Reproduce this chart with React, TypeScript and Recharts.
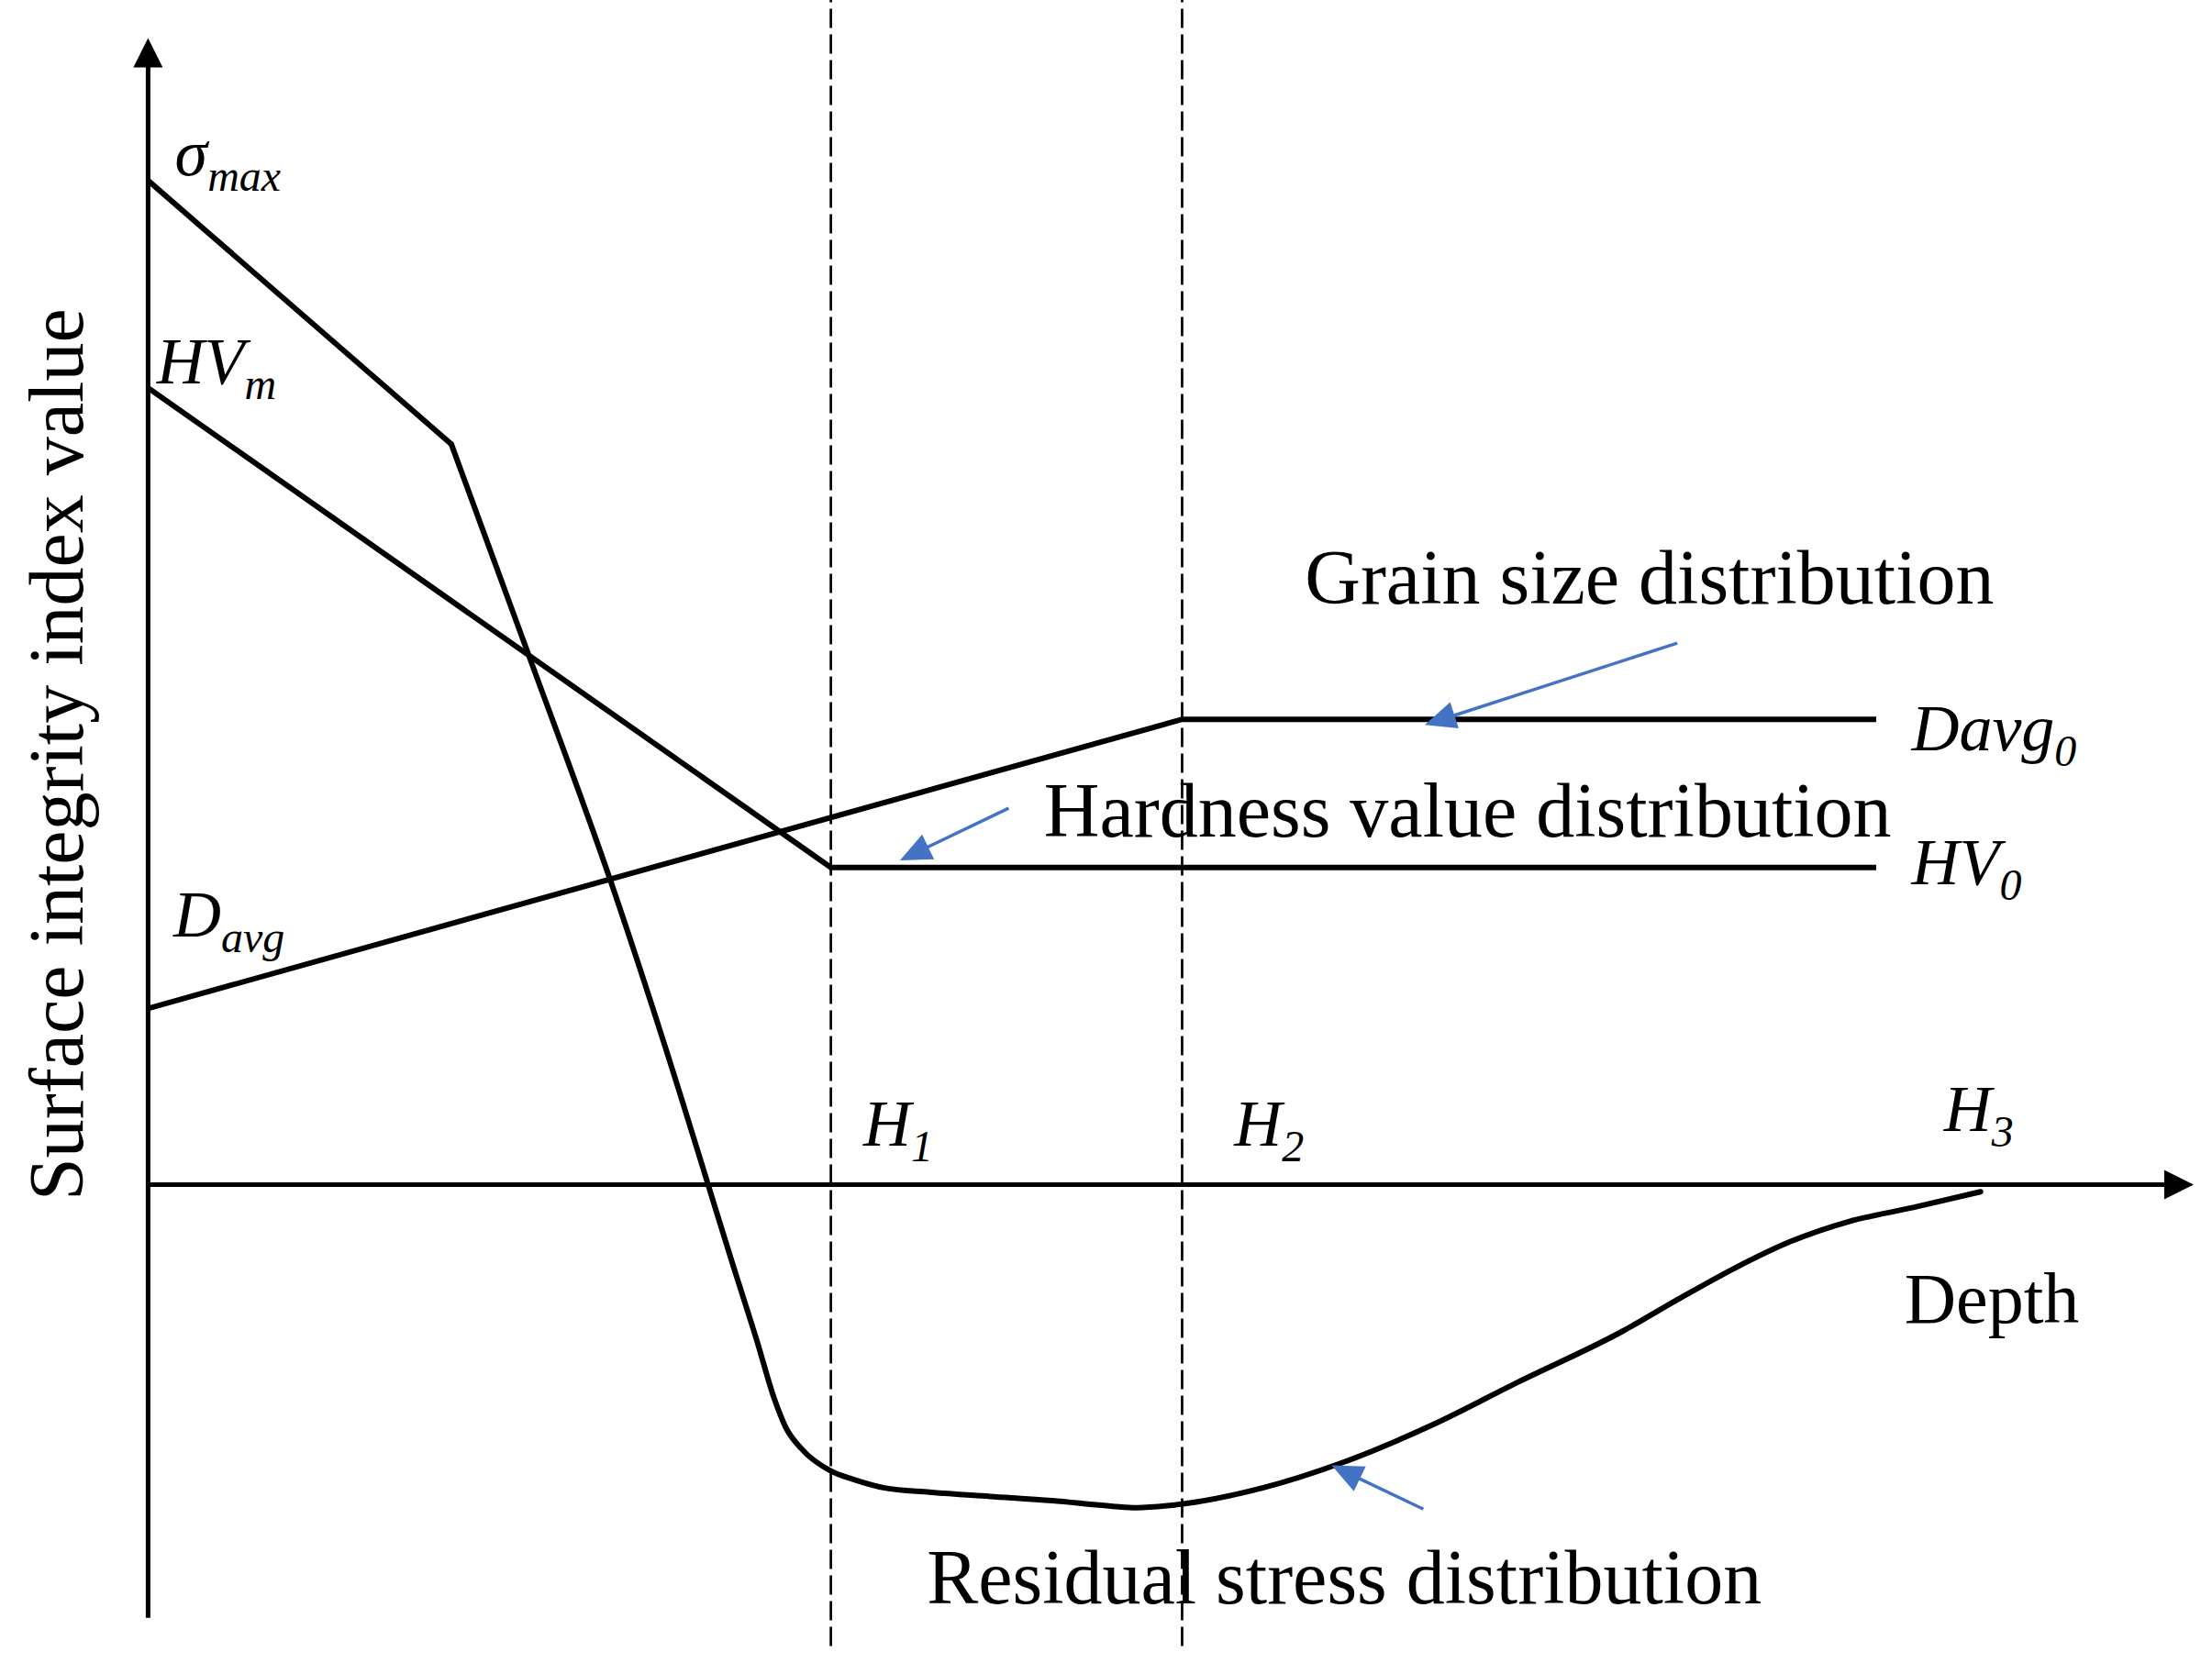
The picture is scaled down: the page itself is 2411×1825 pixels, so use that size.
import { ComposedChart, Line, XAxis, YAxis, ReferenceLine, ReferenceDot } from 'recharts'

// schematic units: d = depth, v = surface integrity index value
const stressHeadDepth = [0, 215]
const stressHeadValue = [712, 525]
const stressDepth = [215, 270, 328, 376, 397, 414, 432, 444, 452, 463, 484, 500, 522, 554, 597, 641, 684, 701, 728, 790, 844, 911, 971, 1045, 1085, 1125, 1165, 1206, 1252, 1299]
const stressValue = [525, 375, 215, 68, 0, -55, -112, -152, -172, -187, -203, -209, -215, -218, -221, -224, -228, -229, -227, -215, -198, -170, -140, -104, -81, -59, -40, -26, -16, -5]
const hardDepth = [0, 484, 1225]
const hardValue = [565, 225, 225]
const grainDepth = [0, 733, 1225]
const grainValue = [125, 330, 330]

const depthH = [484, 733] // H1, H2 dashed guides
const axisTop = 813
const axisBottom = -307
const axisEnd = 1450

// symbol labels: main text, subscript, anchor (depth, value)
const symbols = [
  { main: 'σ', sub: 'max', d: 19, v: 716 },
  { main: 'HV', sub: 'm', d: 6, v: 568 },
  { main: 'D', sub: 'avg', d: 18, v: 176 },
  { main: 'Davg', sub: '0', d: 1250, v: 308 },
  { main: 'HV', sub: '0', d: 1250, v: 213 },
  { main: 'H', sub: '1', d: 507, v: 28 },
  { main: 'H', sub: '2', d: 770, v: 28 },
  { main: 'H', sub: '3', d: 1273, v: 38 },
]

const captions = [
  { text: 'Grain size distribution', d: 820, v: 412, size: 84 },
  { text: 'Hardness value distribution', d: 635, v: 247, size: 84 },
  { text: 'Residual stress distribution', d: 552, v: -297, size: 84 },
  { text: 'Depth', d: 1245, v: -98, size: 78 },
]

// blue pointer arrows: from -> to
const pointers = [
  { d1: 1084, v1: 384, d2: 905, v2: 326 },
  { d1: 610, v1: 267, d2: 533, v2: 230 },
  { d1: 904, v1: -230, d2: 839, v2: -199 },
]

const zip = (d: number[], v: number[]) => d.map((x, i) => ({ d: x, v: v[i] }))

const FONT = '"Liberation Serif", "Times New Roman", serif'
const BLUE = '#4472C4'

const arrowShape = (color: string, width: number, head: number, headW: number) => (p: any) => {
  const { x1, y1, x2, y2 } = p
  const dx = x2 - x1
  const dy = y2 - y1
  const len = Math.hypot(dx, dy)
  const ux = dx / len
  const uy = dy / len
  const bx = x2 - ux * head
  const by = y2 - uy * head
  const px = (-uy * headW) / 2
  const py = (ux * headW) / 2
  return (
    <g>
      <line x1={x1} y1={y1} x2={bx + ux * 2} y2={by + uy * 2} stroke={color} strokeWidth={width} />
      <polygon points={`${x2},${y2} ${bx + px},${by + py} ${bx - px},${by - py}`} fill={color} />
    </g>
  )
}

const symbolShape = (main: string, sub: string) => (p: any) => (
  <text x={p.cx} y={p.cy} fontFamily={FONT} fontStyle="italic" fontSize={72} fill="#000">
    {main}
    <tspan fontSize={48} dy={17}>
      {sub}
    </tspan>
  </text>
)

const captionShape = (text: string, size: number) => (p: any) => (
  <text x={p.cx} y={p.cy} fontFamily={FONT} fontSize={size} fill="#000">
    {text}
  </text>
)

const yLabelShape = (p: any) => (
  <text
    x={p.cx}
    y={p.cy}
    fontFamily={FONT}
    fontSize={84}
    fill="#000"
    textAnchor="middle"
    transform={`rotate(-90, ${p.cx}, ${p.cy})`}
  >
    Surface integrity index value
  </text>
)

export default function App() {
  return (
    <div style={{ position: 'absolute', left: 0, top: 0, width: 2411, height: 1825, background: '#fff' }}>
      <ComposedChart
        width={2411}
        height={1825}
        margin={{ top: 0, right: 4.7, bottom: 26, left: 161.4 }}
      >
        <XAxis type="number" dataKey="d" domain={[0, 1460]} allowDataOverflow hide />
        <YAxis type="number" domain={[-330, 840]} allowDataOverflow hide />

        {depthH.map((d) => (
          <ReferenceLine
            key={d}
            segment={[{ x: d, y: -327 }, { x: d, y: 840 }]}
            stroke="#000"
            strokeWidth={2.7}
            strokeDasharray="21 7"
            ifOverflow="visible"
          />
        ))}

        <ReferenceLine
          segment={[{ x: 0, y: axisBottom }, { x: 0, y: axisTop }]}
          ifOverflow="visible"
          shape={arrowShape('#000', 5, 32, 32)}
        />
        <ReferenceLine
          segment={[{ x: 0, y: 0 }, { x: axisEnd, y: 0 }]}
          ifOverflow="visible"
          shape={arrowShape('#000', 5, 32, 32)}
        />

        <Line
          data={zip(stressHeadDepth, stressHeadValue)}
          dataKey="v"
          type="linear"
          stroke="#000"
          strokeWidth={6}
          strokeLinecap="round"
          dot={false}
          activeDot={false}
          isAnimationActive={false}
        />
        <Line
          data={zip(stressDepth, stressValue)}
          dataKey="v"
          type="monotone"
          stroke="#000"
          strokeWidth={6}
          strokeLinecap="round"
          dot={false}
          activeDot={false}
          isAnimationActive={false}
        />
        <Line
          data={zip(hardDepth, hardValue)}
          dataKey="v"
          type="linear"
          stroke="#000"
          strokeWidth={6}
          dot={false}
          activeDot={false}
          isAnimationActive={false}
        />
        <Line
          data={zip(grainDepth, grainValue)}
          dataKey="v"
          type="linear"
          stroke="#000"
          strokeWidth={6}
          dot={false}
          activeDot={false}
          isAnimationActive={false}
        />

        {pointers.map((a, i) => (
          <ReferenceLine
            key={`p${i}`}
            segment={[{ x: a.d1, y: a.v1 }, { x: a.d2, y: a.v2 }]}
            ifOverflow="visible"
            shape={arrowShape(BLUE, 3.5, 34, 30)}
          />
        ))}

        {symbols.map((s, i) => (
          <ReferenceDot key={`s${i}`} x={s.d} y={s.v} ifOverflow="visible" shape={symbolShape(s.main, s.sub)} />
        ))}
        {captions.map((c, i) => (
          <ReferenceDot key={`c${i}`} x={c.d} y={c.v} ifOverflow="visible" shape={captionShape(c.text, c.size)} />
        ))}
        <ReferenceDot x={-46.5} y={305} ifOverflow="visible" shape={yLabelShape} />
      </ComposedChart>
    </div>
  )
}
